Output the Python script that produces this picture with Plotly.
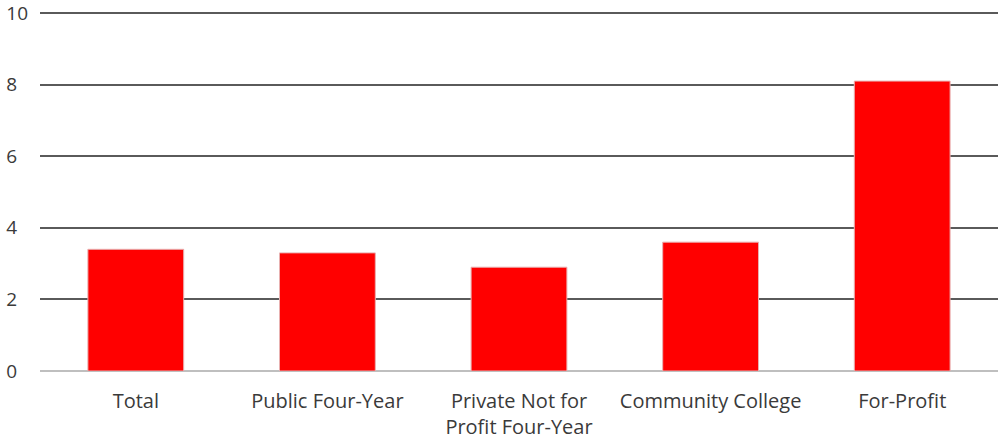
import plotly.graph_objects as go

categories = ["Total", "Public Four-Year", "Private Not for<br>Profit Four-Year", "Community College", "For-Profit"]
values = [3.4, 3.3, 2.9, 3.6, 8.1]
y_ticks = [0, 2, 4, 6, 8, 10]
y_tick_labels = ["0\u2007", "2\u2007", "4\u2007", "6\u2007", "8\u2007", "10"]

fig = go.Figure()
fig.add_trace(go.Bar(
    x=categories, y=values,
    marker=dict(color="#ff0000", line=dict(color="#e8b0b0", width=1)),
    width=0.5,
))
fig.update_layout(
    width=1000, height=441,
    margin=dict(l=40, r=2, t=12, b=70),
    paper_bgcolor="white", plot_bgcolor="white",
    showlegend=False,
    font=dict(family="Open Sans", size=18, color="#3a3a3a"),
)
fig.update_yaxes(
    range=[0, 10.03], tickvals=y_ticks, ticktext=y_tick_labels, showgrid=True,
    gridcolor="#5a5a5a", gridwidth=1.5,
    zeroline=True, zerolinecolor="#bfbfbf", zerolinewidth=1.5,
    ticks="", ticklabelstandoff=11, tickfont=dict(size=19),
    ticklabeloverflow="allow",
    automargin=False,
)
fig.update_xaxes(showgrid=False, ticks="", tickfont=dict(size=20), showline=False,
                 automargin=False, ticklabelstandoff=16, ticklabeloverflow="allow")
fig.write_html("out.html", config={"displayModeBar": False},
               post_script="document.body.style.margin='0';")
